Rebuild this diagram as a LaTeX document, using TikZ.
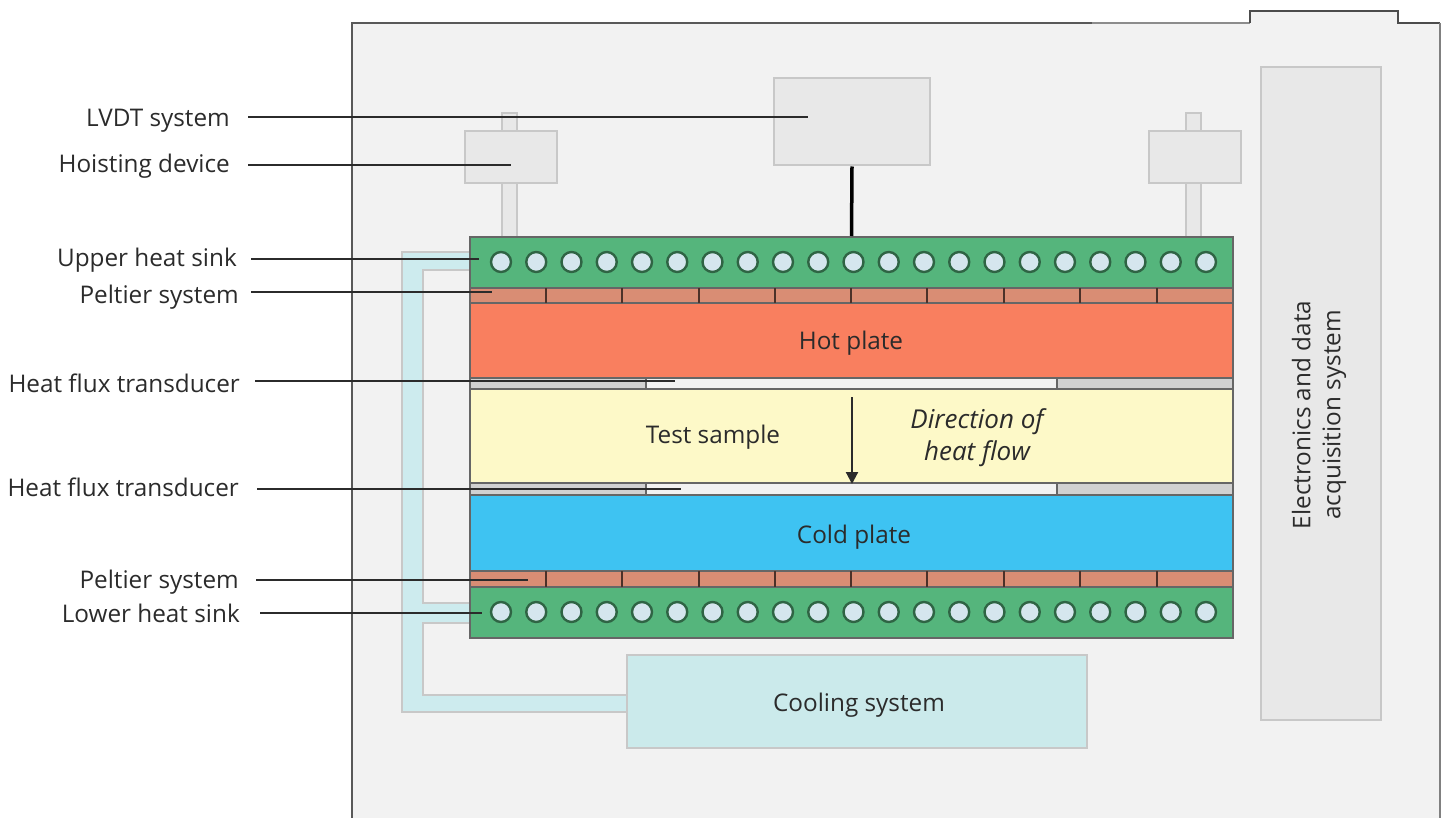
\documentclass[tikz,border=0pt]{standalone}
\usepackage{fontspec}
\setmainfont{Open Sans}
\usetikzlibrary{arrows.meta, positioning}
\definecolor{wallgray}{HTML}{F2F2F2}
\definecolor{boxgray}{HTML}{E8E8E8}
\definecolor{edgegray}{HTML}{C8C8C8}
\definecolor{sinkgreen}{HTML}{55B57C}
\definecolor{peltierred}{HTML}{D98D74}
\definecolor{hotred}{HTML}{F97F5F}
\definecolor{samplecream}{HTML}{FDF9C8}
\definecolor{coldblue}{HTML}{3EC3F2}
\definecolor{pipeblue}{HTML}{CDEBEE}
\definecolor{coolblue}{HTML}{CBEAEB}
\definecolor{holeblue}{HTML}{D5E6EE}
\definecolor{inkdark}{HTML}{2B2B2B}
\tikzset{
  lab/.style={font=\fontsize{24.3}{30}\selectfont, text=inkdark, inner sep=0pt},
  leader/.style={inkdark, line width=2.5pt},
  grayblock/.style={fill=boxgray, draw=edgegray, line width=2pt},
  plate/.style={draw=black!60, line width=2pt},
  hole/.style={circle, minimum size=20pt, inner sep=0pt, fill=holeblue, draw=black!45!sinkgreen, line width=2.4pt},
}
\begin{document}
\begin{tikzpicture}[x=1pt,y=-1pt]
\useasboundingbox (0,0) rectangle (1448,818);

% Cabinet
\fill[wallgray] (352,23) -- (1250,23) -- (1250,11) -- (1398,11) -- (1398,23) -- (1440,23) -- (1440,818) -- (352,818) -- cycle;
\draw[black!65, line width=2.2pt] (352,818) -- (352,23) -- (1092,23);
\draw[black!45, line width=2pt] (1092,23) -- (1250,23);
\draw[black!70, line width=2.2pt] (1250,23) -- (1250,11) -- (1398,11) -- (1398,23) -- (1440,23);
\draw[black!50, line width=2pt] (1440,23) -- (1440,818);

% Cooling pipes
\draw[fill=pipeblue, draw=edgegray, line width=2pt] (470,252) -- (402,252) -- (402,712) -- (627,712) -- (627,695) -- (423,695) -- (423,623) -- (470,623) -- (470,603) -- (423,603) -- (423,270) -- (470,270);

% Hoisting rods
\foreach \xrod in {502,1186} {
    \draw[grayblock] (\xrod,113) rectangle (\xrod+15,237);
}

% Grey boxes
\node[grayblock, minimum width=156pt, minimum height=87pt, inner sep=0pt] (lvdt) at (852,122) {};
\node[grayblock, minimum width=92pt, minimum height=52pt, inner sep=0pt] (hoistl) at (511,157) {};
\node[grayblock, minimum width=92pt, minimum height=52pt, inner sep=0pt] (hoistr) at (1194.5,157) {};
\node[grayblock, minimum width=120pt, minimum height=653pt, inner sep=0pt] (daq) at (1321,393.5) {};
\node[lab, rotate=90, align=center] (daqtext) at (1319,415) {Electronics and data\\acquisition system};

% Plates
\node[plate, fill=sinkgreen, minimum width=763pt, minimum height=51pt, inner sep=0pt] (usink) at (851.5,262.5) {};
\node[plate, fill=peltierred, minimum width=763pt, minimum height=15pt, inner sep=0pt] (upelt) at (851.5,295.5) {};
\node[plate, fill=hotred, minimum width=763pt, minimum height=75pt, inner sep=0pt] (hot) at (851.5,340.5) {};
\node[plate, fill=black!5, minimum width=763pt, minimum height=11pt, inner sep=0pt] (utrans) at (851.5,383.5) {};
\node[plate, fill=samplecream, minimum width=763pt, minimum height=94pt, inner sep=0pt] (sample) at (851.5,436) {};
\node[plate, fill=black!5, minimum width=763pt, minimum height=12pt, inner sep=0pt] (ltrans) at (851.5,489) {};
\node[plate, fill=coldblue, minimum width=763pt, minimum height=76pt, inner sep=0pt] (cold) at (851.5,533) {};
\node[plate, fill=peltierred, minimum width=763pt, minimum height=16pt, inner sep=0pt] (lpelt) at (851.5,579) {};
\node[plate, fill=sinkgreen, minimum width=763pt, minimum height=51pt, inner sep=0pt] (lsink) at (851.5,612.5) {};

% Grey ends of the transducers
\foreach \ytop/\ybot in {378/389,483/495} {
    \draw[plate, fill=black!18] (470,\ytop) rectangle (646,\ybot);
    \draw[plate, fill=black!18] (1057,\ytop) rectangle (1233,\ybot);
}

% Peltier cell joints
\foreach \xcell in {546,622,699,775,851,927,1004,1080,1157} {
    \draw[black!65!peltierred, line width=2pt] (\xcell,288) -- (\xcell,303);
    \draw[black!65!peltierred, line width=2pt] (\xcell,571) -- (\xcell,587);
}

% Heat sink holes
\foreach \i in {0,...,20} {
    \node[hole] (uhole\i) at (501+35.25*\i,262) {};
    \node[hole] (lhole\i) at (501+35.25*\i,612) {};
}

% Cooling unit
\node[fill=coolblue, draw=edgegray, line width=2pt, minimum width=460pt, minimum height=93pt, inner sep=0pt] (cooling) at (857,701.5) {};

% Stem and heat flow
\draw[black, line width=3.5pt] (lvdt.south) -- (usink.north);
\coordinate (flowtop) at (852,397);
\coordinate (flowend) at (852,484);
\draw[-{Triangle[length=12pt,width=12pt]}, inkdark, line width=2.2pt] (flowtop) -- (flowend);

% Inner labels
\node[lab, anchor=base] (hottext) at (851,349) {Hot plate};
\node[lab, anchor=base] (testtext) at (713,443) {Test sample};
\node[lab, anchor=base] (coldtext) at (854,543) {Cold plate};
\node[lab, anchor=base] (coolingtext) at (859,711) {Cooling system};
\node[lab, align=center, font=\fontsize{26}{32}\selectfont\itshape] (flowtext) at (977,438) {Direction of\\heat flow};

% Left labels and leaders
\node[lab, anchor=base east] (llvdt) at (230,126.5) {LVDT system};
\node[lab, anchor=base east] (lhoist) at (230,173) {Hoisting device};
\node[lab, anchor=base east] (lusink) at (237,267) {Upper heat sink};
\node[lab, anchor=base east] (lupelt) at (239,304) {Peltier system};
\node[lab, anchor=base east] (lutrans) at (240,392) {Heat flux transducer};
\node[lab, anchor=base east] (lltrans) at (239,496) {Heat flux transducer};
\node[lab, anchor=base east] (llpelt) at (239,588) {Peltier system};
\node[lab, anchor=base east] (llsink) at (240,622) {Lower heat sink};

\coordinate (elvdt) at (808,117);
\coordinate (ehoist) at (511,165);
\coordinate (eusink) at (479,259);
\coordinate (eupelt) at (492,292);
\coordinate (eutrans) at (675,381);
\coordinate (eltrans) at (681,489);
\coordinate (elpelt) at (528,580);
\coordinate (elsink) at (482,613);

\draw[leader] (llvdt.east |- elvdt) ++(18,0) -- (elvdt);
\draw[leader] (lhoist.east |- ehoist) ++(18,0) -- (ehoist);
\draw[leader] (lusink.east |- eusink) ++(14,0) -- (eusink);
\draw[leader] (lupelt.east |- eupelt) ++(12,0) -- (eupelt);
\draw[leader] (lutrans.east |- eutrans) ++(15,0) -- (eutrans);
\draw[leader] (lltrans.east |- eltrans) ++(18,0) -- (eltrans);
\draw[leader] (llpelt.east |- elpelt) ++(17,0) -- (elpelt);
\draw[leader] (llsink.east |- elsink) ++(20,0) -- (elsink);
\end{tikzpicture}
\end{document}
